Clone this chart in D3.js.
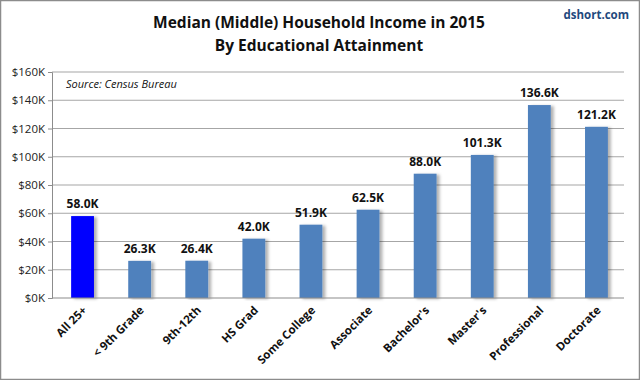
<!DOCTYPE html>
<html>
<head>
<meta charset="utf-8">
<script src="https://cdn.jsdelivr.net/npm/d3@7"></script>
<style>
  body { margin: 0; background: #fff; }
  text { font-family: "Open Sans", "Liberation Sans", sans-serif; }
</style>
</head>
<body>
<div id="chart"></div>
<script>
var categories = ["All 25+", "< 9th Grade", "9th-12th", "HS Grad", "Some College", "Associate", "Bachelor's", "Master's", "Professional", "Doctorate"];
var incomes = [58.0, 26.3, 26.4, 42.0, 51.9, 62.5, 88.0, 101.3, 136.6, 121.2];
var yTicks = [0, 20, 40, 60, 80, 100, 120, 140, 160];

var w = 640, h = 380;
var margin = { top: 72, right: 16, bottom: 82, left: 52 };

var svg = d3.select("#chart").append("svg")
    .attr("width", w)
    .attr("height", h);

// outer frame
svg.append("rect")
    .attr("x", 0.5).attr("y", 0.5)
    .attr("width", w - 1).attr("height", h - 1)
    .attr("fill", "#fff")
    .attr("stroke", "#8c8c8c")
    .attr("stroke-width", 1.5);

var defs = svg.append("defs");
var shadow = defs.append("filter").attr("id", "shadow")
    .attr("x", "-20%").attr("y", "-5%").attr("width", "160%").attr("height", "110%");
shadow.append("feDropShadow")
    .attr("dx", 3).attr("dy", 1).attr("stdDeviation", 1.5)
    .attr("flood-color", "#000").attr("flood-opacity", 0.3);

var x = d3.scaleBand()
    .domain(categories)
    .range([margin.left + 2, w - margin.right + 1])
    .paddingInner(0.6)
    .paddingOuter(0.3);

var y = d3.scaleLinear()
    .domain([0, 160])
    .range([h - margin.bottom, margin.top]);

// gridlines
svg.append("g")
    .selectAll("line")
    .data(yTicks.slice(1))
    .enter()
    .append("line")
    .attr("x1", margin.left)
    .attr("x2", w - margin.right)
    .attr("y1", function(d) { return y(d); })
    .attr("y2", function(d) { return y(d); })
    .attr("stroke", "#a6a6a6")
    .attr("stroke-width", 1.2);

// y axis
var yAxis = svg.append("g")
    .attr("transform", "translate(" + margin.left + ",0)")
    .call(d3.axisLeft(y).tickValues(yTicks).tickSize(4).tickPadding(3)
        .tickFormat(function(d) { return "$" + d + "K"; }));
yAxis.select(".domain").attr("stroke", "#8c8c8c");
yAxis.selectAll(".tick line").attr("stroke", "#8c8c8c");
yAxis.selectAll("text")
    .attr("font-size", "11.5px")
    .attr("fill", "#222");

// bars
svg.append("g")
    .selectAll("rect")
    .data(incomes)
    .enter()
    .append("rect")
    .attr("x", function(d, i) { return x(categories[i]); })
    .attr("y", function(d) { return y(d); })
    .attr("width", x.bandwidth())
    .attr("height", function(d) { return y(0) - y(d); })
    .attr("fill", function(d, i) { return i === 0 ? "#0000ff" : "#4f81bd"; })
    .attr("filter", "url(#shadow)");

// value labels
svg.append("g")
    .selectAll("text")
    .data(incomes)
    .enter()
    .append("text")
    .text(function(d) { return d.toFixed(1) + "K"; })
    .attr("x", function(d, i) { return x(categories[i]) + x.bandwidth() / 2; })
    .attr("y", function(d) { return y(d) - 8; })
    .attr("text-anchor", "middle")
    .attr("font-size", "12px")
    .attr("font-weight", "bold")
    .attr("fill", "#111");

// x axis line
svg.append("line")
    .attr("x1", margin.left)
    .attr("x2", w - margin.right)
    .attr("y1", y(0))
    .attr("y2", y(0))
    .attr("stroke", "#8c8c8c")
    .attr("stroke-width", 1.2);

// category labels
svg.append("g")
    .selectAll("text")
    .data(categories)
    .enter()
    .append("text")
    .text(function(d) { return d; })
    .attr("transform", function(d) {
        return "translate(" + (x(d) + x.bandwidth() / 2 + 5) + "," + (y(0) + 13) + ") rotate(-45)";
    })
    .attr("text-anchor", "end")
    .attr("font-size", "11.5px")
    .attr("font-weight", "bold")
    .attr("fill", "#111");

// titles
svg.append("text")
    .text("Median (Middle) Household Income in 2015")
    .attr("x", 319).attr("y", 28)
    .attr("text-anchor", "middle")
    .attr("font-size", "15.5px")
    .attr("font-weight", "bold")
    .attr("fill", "#111");
svg.append("text")
    .text("By Educational Attainment")
    .attr("x", 319).attr("y", 51)
    .attr("text-anchor", "middle")
    .attr("font-size", "15.5px")
    .attr("font-weight", "bold")
    .attr("fill", "#111");

svg.append("text")
    .text("dshort.com")
    .attr("x", 629).attr("y", 19)
    .attr("text-anchor", "end")
    .attr("font-size", "11.5px")
    .attr("font-weight", "bold")
    .attr("fill", "#1f497d");

svg.append("text")
    .text("Source:  Census Bureau")
    .attr("x", 66).attr("y", 88)
    .attr("font-size", "11px")
    .attr("font-style", "italic")
    .attr("fill", "#111");
</script>
</body>
</html>
